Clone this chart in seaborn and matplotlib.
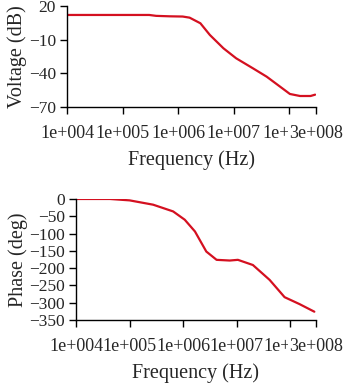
# Bode plot: voltage gain and phase vs frequency

import matplotlib
matplotlib.use('Agg')
import pandas as pd
import matplotlib.pyplot as plt
import seaborn as sns

# gain curve (Hz, dB)
freq_v = [1e4, 1e5, 3e5, 4e5, 7e5, 1.2e6, 1.6e6, 2.5e6, 3.7e6, 6.5e6, 1.1e7,
          2.2e7, 3.9e7, 6.8e7, 1.02e8, 1.55e8, 2.4e8, 2.9e8]
voltage = [12, 12, 12, 11.2, 10.8, 10.6, 9.6, 4.6, -5.8, -17.7, -26.6,
           -35.5, -43, -51.9, -58.4, -60.2, -60.2, -59]

# phase curve (Hz, deg)
freq_p = [1e4, 4.3e4, 1e5, 2.75e5, 6.5e5, 1.07e6, 1.66e6, 2.7e6, 4.2e6,
          7.4e6, 1.05e7, 2e7, 4.1e7, 7.8e7, 1.48e8, 2.8e8]
phase = [0, 0, -4, -16.5, -36, -60, -94, -152, -176,
         -178, -176, -191, -234, -284, -304, -326]

tick_pos = [1e4, 1e5, 1e6, 1e7, 1e8, 3e8]
tick_lab = ['1e+004', '1e+005', '1e+006', '1e+007', '1e+008', '3e+008']

volt_df = pd.DataFrame({'freq': freq_v, 'v': voltage})
phase_df = pd.DataFrame({'freq': freq_p, 'p': phase})

sns.set_style('white')
plt.rcParams['font.family'] = ['Liberation Serif', 'DejaVu Serif']

fig = plt.figure(figsize=(3.55, 3.86), dpi=100)
ax1 = fig.add_axes([0.189, 0.7228, 0.701, 0.2617])
ax2 = fig.add_axes([0.214, 0.171, 0.676, 0.3135])

line_col = '#d41020'
sns.lineplot(data=volt_df, x='freq', y='v', ax=ax1, color=line_col, linewidth=1.6)
sns.lineplot(data=phase_df, x='freq', y='p', ax=ax2, color=line_col, linewidth=1.6)

for ax in (ax1, ax2):
    ax.set_xscale('log')
    ax.set_xlim(1e4, 3e8)
    ax.set_xticks(tick_pos)
    ax.set_xticklabels(tick_lab)
    ax.minorticks_off()
    ax.tick_params(axis='both', direction='out', length=5, width=1,
                   color='black', pad=3, bottom=True, left=True)
    ax.tick_params(axis='x', pad=8, labelsize=13)
    ax.tick_params(axis='y', labelsize=12.5)
    for s in ['top', 'right']:
        ax.spines[s].set_visible(False)
    for s in ['left', 'bottom']:
        ax.spines[s].set_color('black')
        ax.spines[s].set_linewidth(1)
    ax.set_xlabel('Frequency (Hz)', fontsize=14.5, labelpad=6)
    # last label sits on top of its neighbour
    ax.get_xticklabels()[-1].set_bbox(dict(facecolor='white', edgecolor='none', pad=1))

ax1.set_ylim(-70, 20)
ax1.set_yticks([20, -10, -40, -70])
ax1.set_ylabel('Voltage (dB)', fontsize=14.5, labelpad=1)

ax2.set_ylim(-350, 0)
ax2.set_yticks(list(range(0, -351, -50)))
ax2.set_ylabel('Phase (deg)', fontsize=14.5, labelpad=1)

fig.savefig('out.png', dpi=100)
